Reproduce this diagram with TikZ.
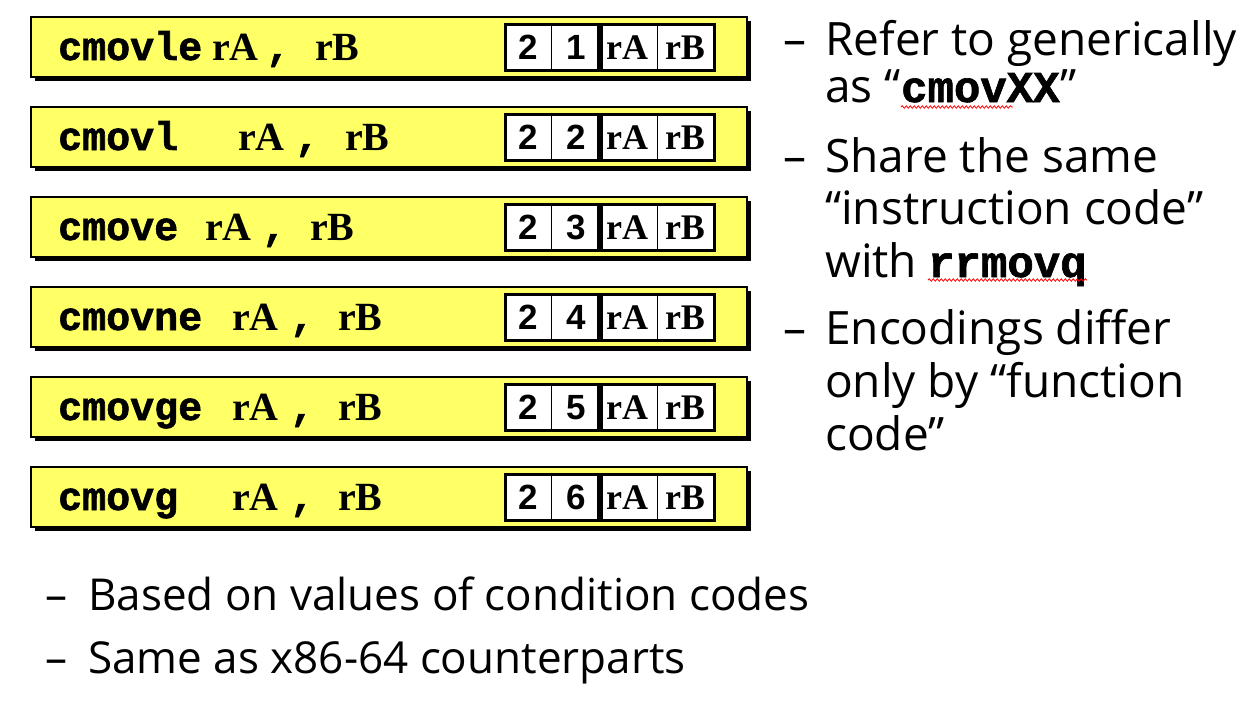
\documentclass[tikz,border=0pt]{standalone}
\usepackage{fontspec}
\setmainfont{Open Sans}
\newfontfamily\courfont[BoldFeatures={FakeBold=1.5}]{Liberation Mono}
\newfontfamily\timesfont{Liberation Serif}
\newfontfamily\arialfont{Liberation Sans}
\usetikzlibrary{shadows,decorations.pathmorphing}
\definecolor{instrYellow}{RGB}{255,255,102}
\tikzset{
  instrbox/.style={draw=black, line width=2.5pt, fill=instrYellow, minimum width=716pt,
    minimum height=60pt, inner sep=0pt,
    general shadow={fill=black, shadow xshift=4pt, shadow yshift=-4pt}},
  bytebox/.style={draw=black, line width=3pt, fill=white, minimum height=46pt, inner sep=0pt},
  mnem/.style={font=\courfont\bfseries\fontsize{40}{40}\selectfont, inner sep=0pt, anchor=base west},
  reg/.style={font=\timesfont\bfseries\fontsize{40}{40}\selectfont, inner sep=0pt, anchor=base west},
  nib/.style={font=\arialfont\bfseries\fontsize{35}{35}\selectfont, inner sep=0pt, anchor=base},
  nibreg/.style={font=\timesfont\bfseries\fontsize{36}{36}\selectfont, inner sep=0pt, anchor=base},
  bullet/.style={font=\fontsize{46}{46}\selectfont, inner sep=0pt, anchor=base west},
  lowbullet/.style={font=\fontsize{44}{44}\selectfont, inner sep=0pt, anchor=base west},
  inlinecode/.style={font=\courfont\bfseries\fontsize{44}{44}\selectfont, inner sep=0pt, anchor=base west},
  spell/.style={draw=red, line width=0.8pt, decorate,
    decoration={snake, amplitude=1.2pt, segment length=4pt}}
}
\begin{document}
\begin{tikzpicture}[x=1pt,y=-1pt]
\useasboundingbox (0,0) rectangle (1249,707);
\fill[white] (0,0) rectangle (1249,707);

% six conditional-move instructions with their two-byte encodings
\foreach \mn/\fn/\ax/\cx/\bx [count=\i from 0] in
  {cmovle/1/212/266/315, cmovl/2/238/295/345, cmove/3/205/262/310,
   cmovne/4/232/290/338, cmovge/5/232/290/338, cmovg/6/232/290/338} {
  \node[instrbox] (row\i) at (389, 47+90*\i) {};
  \node[mnem] (mn\i) at (58, 60+90*\i) {\mn};
  \node[reg]  (ra\i) at (\ax, 60+90*\i) {rA};
  \node[mnem] (cm\i) at (\cx, 60+90*\i) {,};
  \node[reg]  (rb\i) at (\bx, 60+90*\i) {rB};
  % byte 0: icode / ifun, byte 1: rA / rB
  \node[bytebox, minimum width=93pt]  (byteA\i) at (551.5, 47+90*\i) {};
  \node[bytebox, minimum width=113pt] (byteB\i) at (657.5, 47+90*\i) {};
  \draw[line width=1pt] (byteA\i.north) -- (byteA\i.south);
  \draw[line width=1pt] (byteB\i.north) -- (byteB\i.south);
  \node[nib] (ic\i) at (528, 59+90*\i) {2};
  \node[nib] (if\i) at (576, 59+90*\i) {\fn};
  \node[nibreg] (ea\i) at (627, 59+90*\i) {rA};
  \node[nibreg] (eb\i) at (685, 59+90*\i) {rB};
}

% notes on the right
\node[bullet] (d1) at (783,55) {–};
\node[bullet] (t1) at (825,55) {Refer to generically};
\node[bullet] (t2a) at (825,102) {as “};
\node[inlinecode] (t2b) at (t2a.base east) {cmovXX};
\node[bullet] (t2c) at (t2b.base east) {”};
\draw[spell] ([yshift=-5pt]t2b.base west) -- ++(112,0);

\node[bullet] (d2) at (783,172) {–};
\node[bullet] (t3) at (825,172) {Share the same};
\node[bullet] (t4) at (825,224) {“instruction code”};
\node[bullet] (t5a) at (825,277) {with};
\node[inlinecode] (t5b) at (928,277) {rrmovq};
\draw[spell] ([yshift=-3pt]t5b.base west) -- ([yshift=-3pt]t5b.base east);

\node[bullet] (d3) at (783,344) {–};
\node[bullet] (t6) at (825,344) {Encodings differ};
\node[bullet] (t7) at (825,397) {only by “function};
\node[bullet] (t8) at (825,450) {code”};

% notes below
\node[lowbullet] (d4) at (45,610) {–};
\node[lowbullet] (t9) at (88,610) {Based on values of condition codes};
\node[lowbullet] (d5) at (45,673) {–};
\node[lowbullet] (t10) at (88,673) {Same as x86-64 counterparts};
\end{tikzpicture}
\end{document}
